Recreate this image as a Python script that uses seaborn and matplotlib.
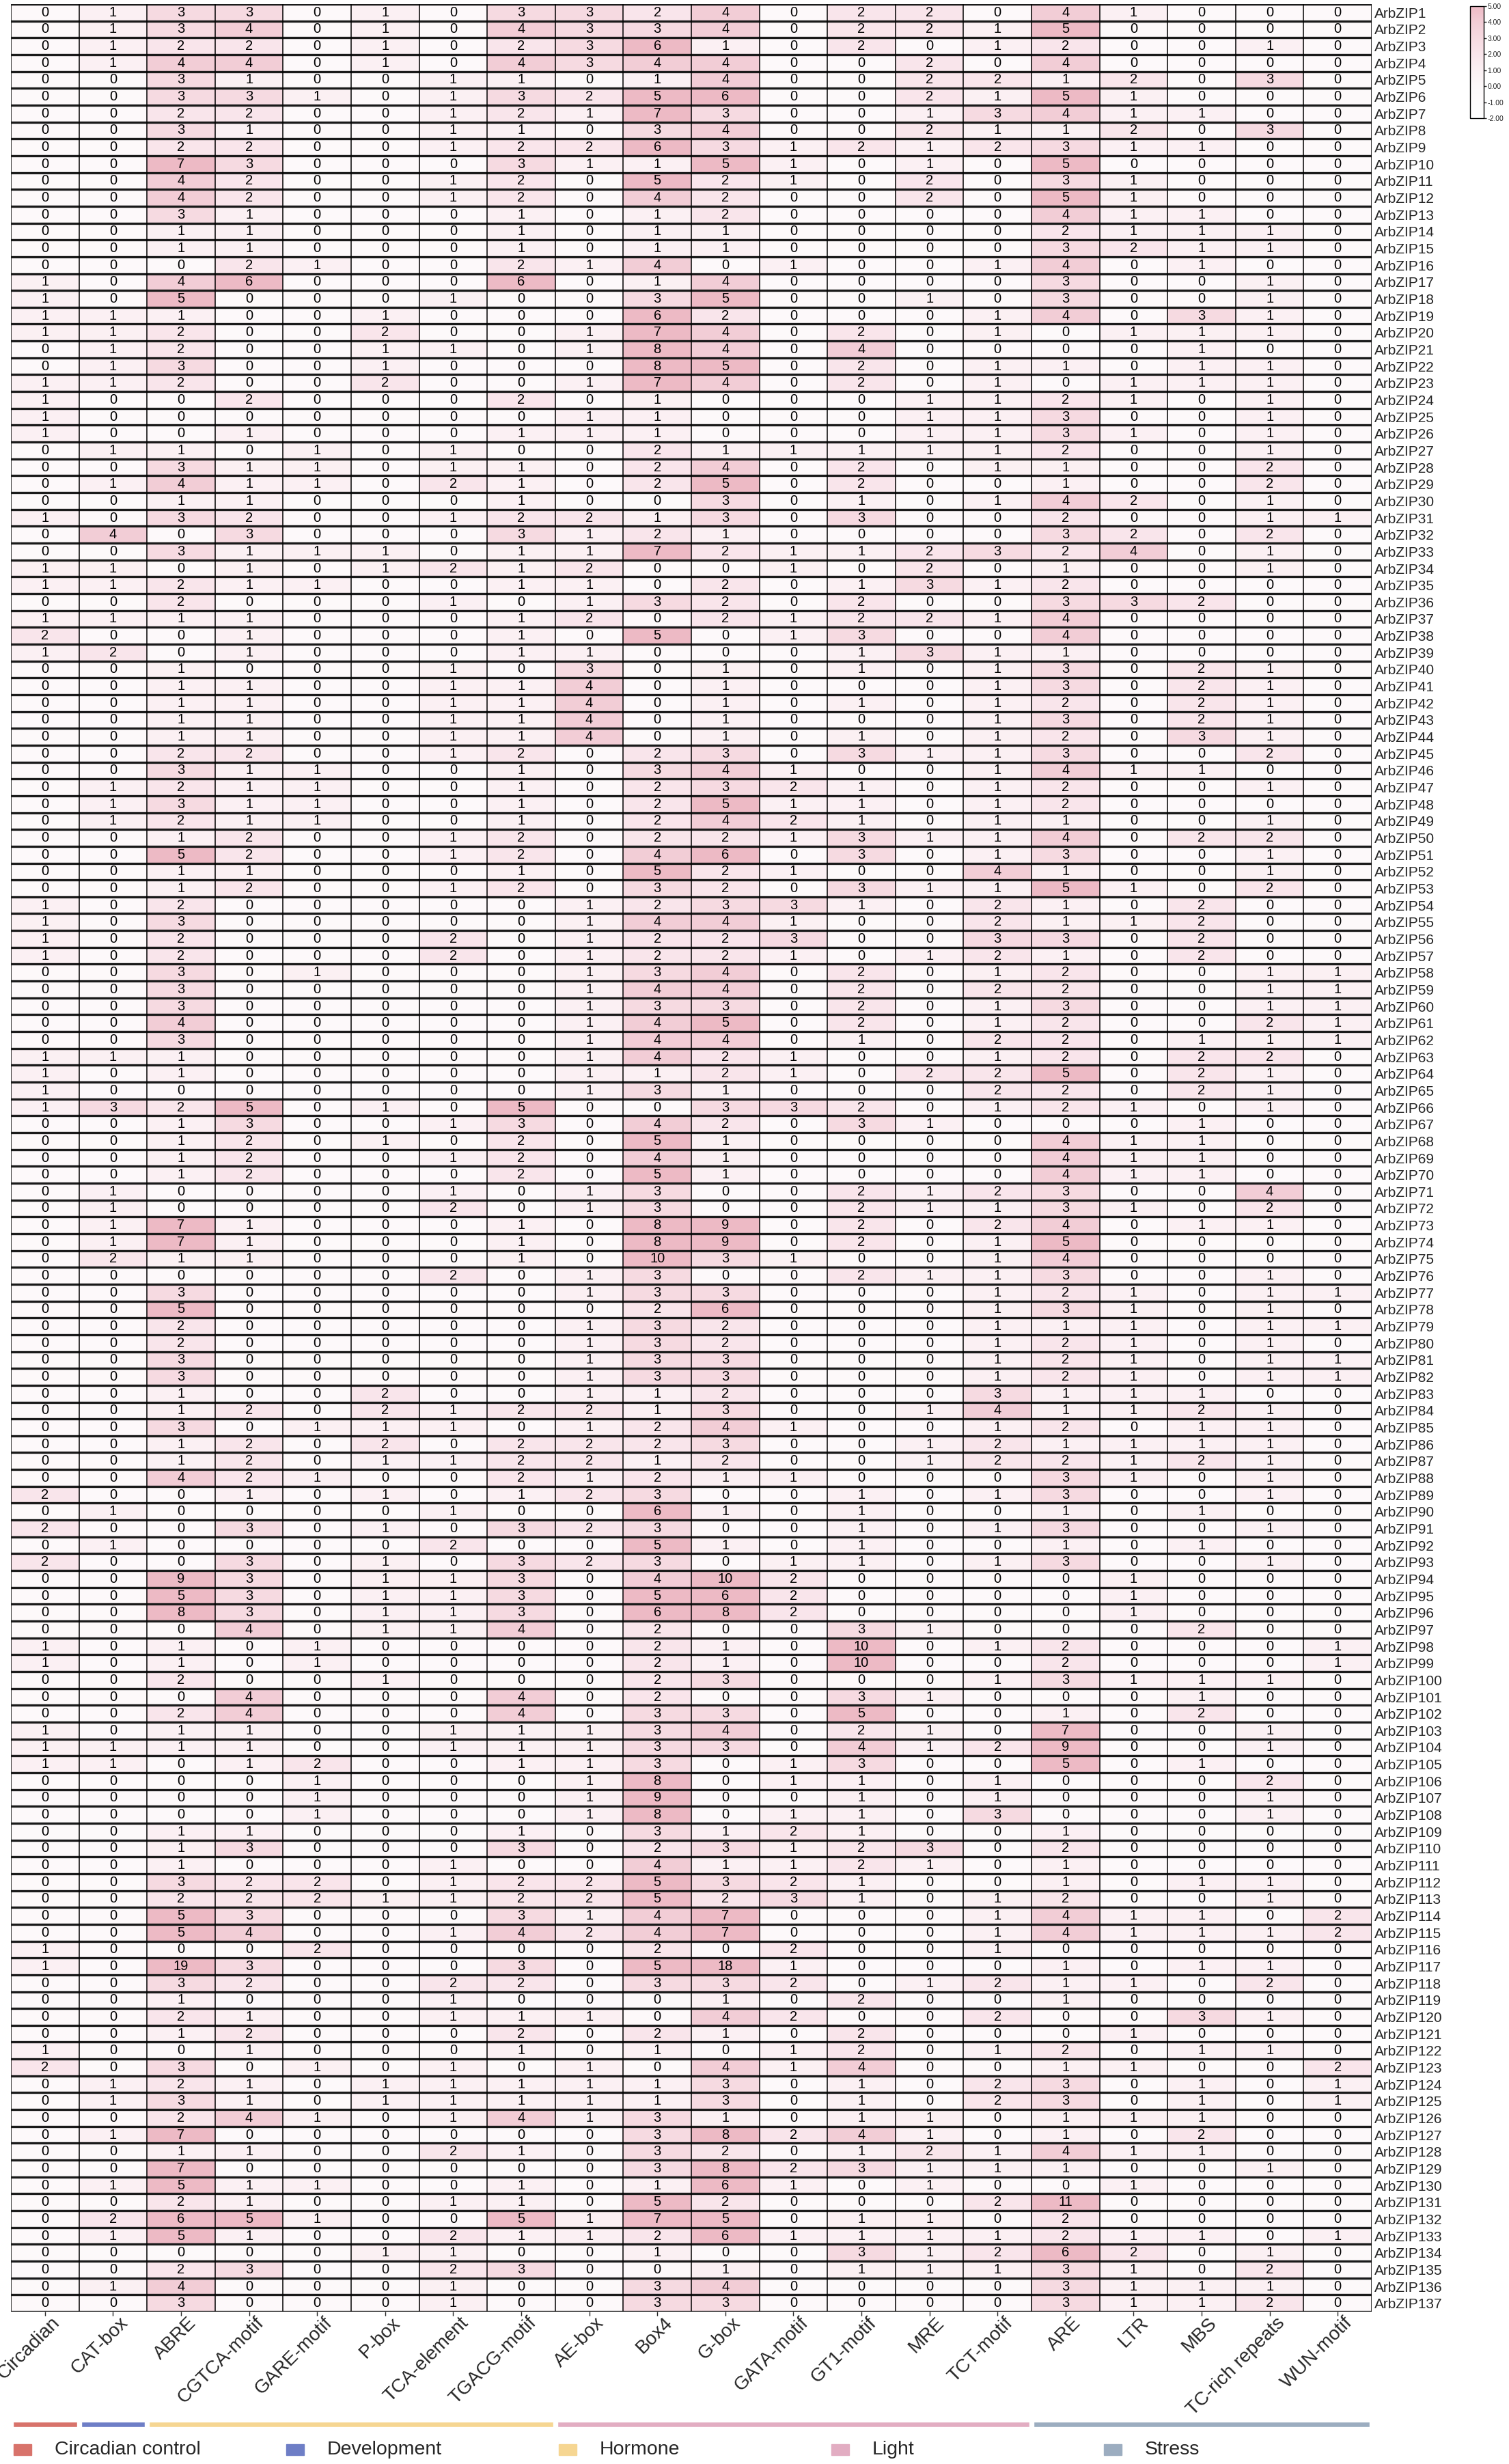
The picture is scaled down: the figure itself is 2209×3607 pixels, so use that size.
import numpy as np
import pandas as pd
import matplotlib
matplotlib.use("Agg")
import matplotlib.pyplot as plt
from matplotlib.colors import LinearSegmentedColormap
from matplotlib.patches import Rectangle
import seaborn as sns

# --- cis-element counts per ArbZIP gene (rows ArbZIP1..ArbZIP137) ---
circadian = [0,0,0,0,0,0,0,0,0,0, 0,0,0,0,0,0,1,1,1,1, 0,0,1,1,1,1,0,0,0,0, 1,0,0,1,1,0,1,2,1,0,
             0,0,0,0,0,0,0,0,0,0, 0,0,0,1,1,1,1,0,0,0, 0,0,1,1,1,1,0,0,0,0, 0,0,0,0,0,0,0,0,0,0,
             0,0,0,0,0,0,0,0,2,0, 2,0,2,0,0,0,0,1,1,0, 0,0,1,1,1,0,0,0,0,0, 0,0,0,0,0,1,1,0,0,0,
             0,1,2,0,0,0,0,0,0,0, 0,0,0,0,0,0,0]
cat_box = [1,1,1,1,0,0,0,0,0,0, 0,0,0,0,0,0,0,0,1,1, 1,1,1,0,0,0,1,0,1,0, 0,4,0,1,1,0,1,0,2,0,
           0,0,0,0,0,0,1,1,1,0, 0,0,0,0,0,0,0,0,0,0, 0,0,1,0,0,3,0,0,0,0, 1,1,1,1,2,0,0,0,0,0,
           0,0,0,0,0,0,0,0,0,1, 0,1,0,0,0,0,0,0,0,0, 0,0,0,1,1,0,0,0,0,0, 0,0,0,0,0,0,0,0,0,0,
           0,0,0,1,1,0,1,0,0,1, 0,2,1,0,0,1,0]
abre = [3,3,2,4,3,3,2,3,2,7, 4,4,3,1,1,0,4,5,1,2, 2,3,2,0,0,0,1,3,4,1, 3,0,3,0,2,2,1,0,0,1,
        1,1,1,1,2,3,2,3,2,1, 5,1,1,2,3,2,2,3,3,3, 4,3,1,1,0,2,1,1,1,1, 0,0,7,7,1,0,3,5,2,2,
        3,3,1,1,3,1,1,4,0,0, 0,0,0,9,5,8,0,1,1,2, 0,2,1,1,0,0,0,0,1,1, 1,3,2,5,5,0,19,3,1,2,
        1,0,3,2,3,2,7,1,7,5, 2,6,5,0,2,4,3]
cgtca = [3,4,2,4,1,3,2,1,2,3, 2,2,1,1,1,2,6,0,0,0, 0,0,0,2,0,1,0,1,1,1, 2,3,1,1,1,0,1,1,1,0,
         1,1,1,1,2,1,1,1,1,2, 2,1,2,0,0,0,0,0,0,0, 0,0,0,0,0,5,3,2,2,2, 0,0,1,1,1,0,0,0,0,0,
         0,0,0,2,0,2,2,2,1,0, 3,0,3,3,3,3,4,0,0,0, 4,4,1,1,1,0,0,0,1,3, 0,2,2,3,4,0,3,2,0,1,
         2,1,0,1,1,4,0,1,0,1, 1,5,1,0,3,0,0]
gare = [0,0,0,0,0,1,0,0,0,0, 0,0,0,0,0,1,0,0,0,0, 0,0,0,0,0,0,1,1,1,0, 0,0,1,0,1,0,0,0,0,0,
        0,0,0,0,0,1,1,1,1,0, 0,0,0,0,0,0,0,1,0,0, 0,0,0,0,0,0,0,0,0,0, 0,0,0,0,0,0,0,0,0,0,
        0,0,0,0,1,0,0,1,0,0, 0,0,0,0,0,0,0,1,1,0, 0,0,0,0,2,1,1,1,0,0, 0,2,2,0,0,2,0,0,0,0,
        0,0,1,0,0,1,0,0,0,1, 0,1,0,0,0,0,0]
p_box = [1,1,1,1,0,0,0,0,0,0, 0,0,0,0,0,0,0,0,1,2, 1,1,2,0,0,0,0,0,0,0, 0,0,1,1,0,0,0,0,0,0,
         0,0,0,0,0,0,0,0,0,0, 0,0,0,0,0,0,0,0,0,0, 0,0,0,0,0,1,0,1,0,0, 0,0,0,0,0,0,0,0,0,0,
         0,0,2,2,1,2,1,0,1,0, 1,0,1,1,1,1,1,0,0,1, 0,0,0,0,0,0,0,0,0,0, 0,0,1,0,0,0,0,0,0,0,
         0,0,0,1,1,0,0,0,0,0, 0,0,0,1,0,0,0]
tca = [0,0,0,0,1,1,1,1,1,0, 1,1,0,0,0,0,0,1,0,0, 1,0,0,0,0,0,1,1,2,0, 1,0,0,2,0,1,0,0,0,1,
       1,1,1,1,1,0,0,0,0,1, 1,0,1,0,0,2,2,0,0,0, 0,0,0,0,0,0,1,0,1,0, 1,2,0,0,0,2,0,0,0,0,
       0,0,0,1,1,0,1,0,0,1, 0,2,0,1,1,1,1,0,0,0, 0,0,1,1,0,0,0,0,0,0, 1,1,1,0,1,0,0,2,1,1,
       0,0,1,1,1,1,0,2,0,0, 1,0,2,1,2,1,1]
tgacg = [3,4,2,4,1,3,2,1,2,3, 2,2,1,1,1,2,6,0,0,0, 0,0,0,2,0,1,0,1,1,1, 2,3,1,1,1,0,1,1,1,0,
         1,1,1,1,2,1,1,1,1,2, 2,1,2,0,0,0,0,0,0,0, 0,0,0,0,0,5,3,2,2,2, 0,0,1,1,1,0,0,0,0,0,
         0,0,0,2,0,2,2,2,1,0, 3,0,3,3,3,3,4,0,0,0, 4,4,1,1,1,0,0,0,1,3, 0,2,2,3,4,0,3,2,0,1,
         2,1,0,1,1,4,0,1,0,1, 1,5,1,0,3,0,0]
ae_box = [3,3,3,3,0,2,1,0,2,1, 0,0,0,0,0,1,0,0,0,1, 1,0,1,0,1,1,0,0,0,0, 2,1,1,2,1,1,2,0,1,3,
          4,4,4,4,0,0,0,0,0,0, 0,0,0,1,1,1,1,1,1,1, 1,1,1,1,1,0,0,0,0,0, 1,1,0,0,0,1,1,0,1,1,
          1,1,1,2,1,2,2,1,2,0, 2,0,2,0,0,0,0,0,0,0, 0,0,1,1,1,1,1,1,0,0, 0,2,2,1,2,0,0,0,0,1,
          0,0,1,1,1,1,0,0,0,0, 0,1,1,0,0,0,0]
box4 = [2,3,6,4,1,5,7,3,6,1, 5,4,1,1,1,4,1,3,6,7, 8,8,7,1,1,1,2,2,2,0, 1,2,7,0,0,3,0,5,0,0,
        0,0,0,0,2,3,2,2,2,2, 4,5,3,2,4,2,2,3,4,3, 4,4,4,1,3,0,4,5,4,5, 3,3,8,8,10,3,3,2,3,3,
        3,3,1,1,2,2,1,2,3,6, 3,5,3,4,5,6,2,2,2,2, 2,3,3,3,3,8,9,8,3,2, 4,5,5,4,4,2,5,3,0,0,
        2,1,0,1,1,3,3,3,3,1, 5,7,2,1,0,3,3]
g_box = [4,4,1,4,4,6,3,4,3,5, 2,2,2,1,1,0,4,5,2,4, 4,5,4,0,0,0,1,4,5,3, 3,1,2,0,2,2,2,0,0,1,
         1,1,1,1,3,4,3,5,4,2, 6,2,2,3,4,2,2,4,4,3, 5,4,2,2,1,3,2,1,1,1, 0,0,9,9,3,0,3,6,2,2,
         3,3,2,3,4,3,2,1,0,1, 0,1,0,10,6,8,0,1,1,3, 0,3,4,3,0,0,0,0,1,3, 1,3,2,7,7,0,18,3,1,4,
         1,0,4,3,3,1,8,2,8,6, 2,5,6,0,1,4,3]
gata = [0,0,0,0,0,0,0,0,1,1, 1,0,0,0,0,1,0,0,0,0, 0,0,0,0,0,0,1,0,0,0, 0,0,1,1,0,0,1,1,0,0,
        0,0,0,0,0,1,2,1,2,1, 0,1,0,3,1,3,1,0,0,0, 0,0,1,1,0,3,0,0,0,0, 0,0,0,0,1,0,0,0,0,0,
        0,0,0,0,1,0,0,1,0,0, 0,0,1,2,2,2,0,0,0,0, 0,0,0,0,1,1,0,1,2,1, 1,2,3,0,0,2,1,2,0,2,
        0,1,1,0,0,0,2,0,2,1, 0,0,1,0,0,0,0]
gt1 = [2,2,2,0,0,0,0,0,2,0, 0,0,0,0,0,0,0,0,0,2, 4,2,2,0,0,0,1,2,2,1, 3,0,1,0,1,2,2,3,1,1,
       0,1,0,1,3,0,1,1,1,3, 3,0,3,1,0,0,0,2,2,2, 2,1,0,0,0,2,3,0,0,0, 2,2,2,2,0,2,0,0,0,0,
       0,0,0,0,0,0,0,0,1,1, 1,1,1,0,0,0,3,10,10,0, 3,5,2,4,3,1,1,1,1,2, 2,1,1,0,0,0,0,0,2,0,
       2,2,4,1,1,1,4,1,3,0, 0,1,1,3,1,0,0]
mre = [2,2,0,2,2,2,1,2,1,1, 2,2,0,0,0,0,0,1,0,0, 0,0,0,1,1,1,1,0,0,0, 0,0,2,2,3,0,2,0,3,0,
       0,0,0,0,1,0,0,0,0,1, 0,0,1,0,0,0,1,0,0,0, 0,0,0,2,0,0,1,0,0,0, 1,1,0,0,0,1,0,0,0,0,
       0,0,0,1,0,1,1,0,0,0, 0,0,0,0,0,0,1,0,0,0, 1,0,1,1,0,0,0,0,0,3, 1,0,0,0,0,0,0,1,0,0,
       0,0,0,0,0,1,1,2,1,1, 0,1,1,1,1,0,0]
tct = [0,1,1,0,2,1,3,1,2,0, 0,0,0,0,0,1,0,0,1,1, 0,1,1,1,1,1,1,1,0,1, 0,0,3,0,1,0,1,0,1,1,
       1,1,1,1,1,1,1,1,1,1, 1,4,1,2,2,3,2,1,2,1, 1,2,1,2,2,1,0,0,0,0, 2,1,2,1,1,1,1,1,1,1,
       1,1,3,4,1,2,2,0,1,0, 1,0,1,0,0,0,0,1,0,1, 0,0,0,2,0,1,1,3,0,0, 0,0,1,1,1,1,0,2,0,2,
       0,1,0,2,2,0,0,1,1,0, 2,0,1,2,1,0,0]
are = [4,5,2,4,1,5,4,1,3,5, 3,5,4,2,3,4,3,3,4,0, 0,1,0,2,3,3,2,1,1,4, 2,3,2,1,2,3,4,4,1,3,
       3,2,3,2,3,4,2,2,1,4, 3,1,5,1,1,3,1,2,2,3, 2,2,2,5,2,2,0,4,4,4, 3,3,4,5,4,3,2,3,1,2,
       2,2,1,1,2,1,2,3,3,1, 3,1,3,0,0,0,0,2,2,3, 0,1,7,9,5,0,0,0,1,2, 1,1,2,4,4,0,1,1,1,0,
       0,2,1,3,3,1,1,4,1,0, 11,2,2,6,3,3,3]
ltr = [1,0,0,0,2,1,1,2,1,0, 1,1,1,1,2,0,0,0,0,1, 0,0,1,1,0,1,0,0,0,2, 0,2,4,0,0,3,0,0,0,0,
       0,0,0,0,0,1,0,0,0,0, 0,0,1,0,1,0,0,0,0,0, 0,0,0,0,0,1,0,1,1,1, 0,1,0,0,0,0,1,1,1,1,
       1,1,1,1,0,1,1,1,0,0, 0,0,0,1,1,1,0,0,0,1, 0,0,0,0,0,0,0,0,0,0, 0,0,0,1,1,0,0,1,0,0,
       1,0,1,0,0,1,0,1,0,1, 0,0,1,2,1,1,1]
mbs = [0,0,0,0,0,0,1,0,1,0, 0,0,1,1,1,1,0,0,3,1, 1,1,1,0,0,0,0,0,0,0, 0,0,0,0,0,2,0,0,0,2,
       2,2,2,3,0,1,0,0,0,2, 0,0,0,2,2,2,2,0,0,0, 0,1,2,2,2,0,1,1,1,1, 0,0,1,0,0,0,0,0,0,0,
       0,0,1,2,1,1,2,0,0,1, 0,1,0,0,0,0,2,0,0,1, 1,2,0,0,1,0,0,0,0,0, 0,1,0,1,1,0,1,0,0,3,
       0,1,0,1,1,1,2,1,0,0, 0,0,1,0,0,1,1]
tc_rich = [0,0,1,0,3,0,0,3,0,0, 0,0,0,1,1,0,1,1,1,1, 0,1,1,1,1,1,1,2,2,1, 1,2,1,1,0,0,0,0,0,1,
           1,1,1,1,2,0,1,0,1,2, 1,1,2,0,0,0,0,1,1,1, 2,1,2,1,1,1,0,0,0,0, 4,2,1,0,0,1,1,1,1,1,
           1,1,0,1,1,1,1,1,1,0, 1,0,1,0,0,0,0,0,0,1, 0,0,1,1,0,2,1,1,0,0, 0,1,1,0,1,0,1,2,0,1,
           0,1,0,0,0,0,0,0,1,0, 0,0,0,1,2,1,2]
wun = [0,0,0,0,0,0,0,0,0,0, 0,0,0,0,0,0,0,0,0,0, 0,0,0,0,0,0,0,0,0,0, 1,0,0,0,0,0,0,0,0,0,
       0,0,0,0,0,0,0,0,0,0, 0,0,0,0,0,0,0,1,1,1, 1,1,0,0,0,0,0,0,0,0, 0,0,0,0,0,0,1,0,1,0,
       1,1,0,0,0,0,0,0,0,0, 0,0,0,0,0,0,0,1,1,0, 0,0,0,0,0,0,0,0,0,0, 0,0,0,2,2,0,0,0,0,0,
       0,0,2,1,1,0,0,0,0,0, 0,0,1,0,0,0,0]

motifs = ["Circadian", "CAT-box", "ABRE", "CGTCA-motif", "GARE-motif", "P-box",
          "TCA-element", "TGACG-motif", "AE-box", "Box4", "G-box", "GATA-motif",
          "GT1-motif", "MRE", "TCT-motif", "ARE", "LTR", "MBS", "TC-rich repeats", "WUN-motif"]
columns = [circadian, cat_box, abre, cgtca, gare, p_box, tca, tgacg, ae_box, box4, g_box,
           gata, gt1, mre, tct, are, ltr, mbs, tc_rich, wun]
genes = [f"ArbZIP{i}" for i in range(1, len(abre) + 1)]

# functional groups of the motifs (in column order)
group_names = ["Circadian control", "Development", "Hormone", "Light", "Stress"]
group_sizes = [1, 1, 6, 7, 5]
group_colors = ["#d8736b", "#6e7ec6", "#f6d692", "#e2adc2", "#9cadc0"]

df = pd.DataFrame(dict(zip(motifs, columns)), index=genes)

sns.set_theme(style="white")
plt.rcParams["font.family"] = ["Liberation Sans", "DejaVu Sans"]

W, H = 2209, 3607
fig = plt.figure(figsize=(W / 100, H / 100), dpi=100)

def px_axes(x0, y0, x1, y1):
    return fig.add_axes([x0 / W, 1 - y1 / H, (x1 - x0) / W, (y1 - y0) / H])

ax = px_axes(16, 6, 2008, 3384)
cax = px_axes(2152, 9, 2172, 173)

# white below zero, soft pink towards the top
cmap = LinearSegmentedColormap.from_list(
    "wp", [(0.0, "#ffffff"), (2 / 7, "#fdf9fa"), (3 / 7, "#fbf0f3"), (4 / 7, "#f9e5eb"),
           (5 / 7, "#f6dae1"), (6 / 7, "#f2cdd6"), (1.0, "#edbac5")])

sns.heatmap(df, ax=ax, cbar_ax=cax, cmap=cmap, vmin=-2, vmax=5,
            annot=True, fmt="d", annot_kws={"size": 14.5, "color": "black"},
            linewidths=0, cbar_kws={"ticks": np.arange(-2, 6), "format": "%.2f"})

n_rows, n_cols = df.shape
ax.hlines(np.arange(n_rows + 1), 0, n_cols, color="#1a1a1a", lw=2.4)
ax.vlines(np.arange(n_cols + 1), 0, n_rows, color="black", lw=1.1)

ax.yaxis.tick_right()
ax.set_yticks(np.arange(n_rows) + 0.5)
ax.set_yticklabels(genes, rotation=0, fontsize=15)
ax.set_xticks(np.arange(n_cols) + 0.5)
ax.set_xticklabels([])
# rotated motif names, anchored slightly right of each tick
for i, name in enumerate(motifs):
    ax.annotate(name, xy=(i + 0.5, 0), xycoords=("data", "axes fraction"),
                xytext=(13, -9), textcoords="offset points", rotation=45,
                ha="right", va="center", rotation_mode="anchor", fontsize=20,
                annotation_clip=False)
ax.tick_params(axis="x", length=4, width=1, pad=2, bottom=True)
ax.tick_params(axis="y", length=0, pad=3)
ax.set_xlabel("")
ax.set_ylabel("")

cax.tick_params(labelsize=7.5, length=3, width=1, pad=1)
cbar = ax.collections[0].colorbar
cbar.outline.set_edgecolor("black")
cbar.outline.set_linewidth(1)

# group colour strip under the columns
gax = px_axes(16, 3545, 2008, 3553)
start = 0
for size, color in zip(group_sizes, group_colors):
    gax.barh(0, size - 0.06, left=start + 0.03, height=1, color=color)
    start += size
gax.set_xlim(0, n_cols)
gax.set_ylim(-0.5, 0.5)
gax.axis("off")

# legend row
for i, (name, color) in enumerate(zip(group_names, group_colors)):
    x0 = 20 + i * 399
    fig.patches.append(Rectangle((x0 / W, 1 - 3594 / H), 26 / W, 16 / H,
                                 transform=fig.transFigure, color=color))
    fig.text((x0 + 60) / W, 1 - 3586 / H, name, fontsize=20.5, va="center", ha="left")

fig.savefig("out.png", dpi=100)
